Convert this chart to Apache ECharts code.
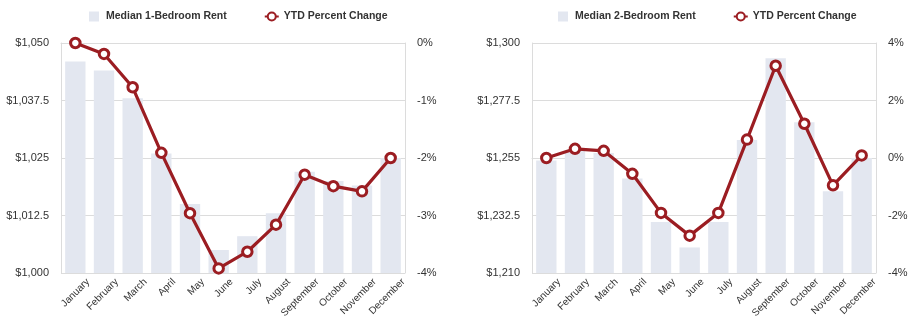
<!DOCTYPE html>
<html><head><meta charset="utf-8">
<script src="https://cdn.jsdelivr.net/npm/echarts@6/dist/echarts.min.js"></script>
<style>
html,body{margin:0;padding:0;background:#fff;}
#wrap{width:922px;height:331px;position:relative;}
#c1{position:absolute;left:0;top:0;width:461px;height:331px;}
#c2{position:absolute;left:461px;top:0;width:461px;height:331px;}
</style></head>
<body><div id="wrap"><div id="c1"></div><div id="c2"></div></div>
<script>
const months = ['January','February','March','April','May','June','July','August','September','October','November','December'];
const rent1 = [1046, 1044, 1038, 1026, 1015, 1005, 1008, 1013, 1022, 1020, 1019, 1025];
const pct1 = [0, -0.19, -0.77, -1.91, -2.96, -3.92, -3.63, -3.16, -2.29, -2.49, -2.58, -2.0];
const rent2 = [1254, 1258, 1257, 1247, 1230, 1220, 1230, 1262, 1294, 1269, 1242, 1255];
const pct2 = [0, 0.32, 0.25, -0.55, -1.91, -2.70, -1.91, 0.64, 3.21, 1.19, -0.95, 0.09];
const ticks1 = [1000, 1012.5, 1025, 1037.5, 1050];
const ticks2 = [1210, 1232.5, 1255, 1277.5, 1300];

const FONT = 'Liberation Sans, Arial, Helvetica, sans-serif';
const BAR = '#e3e7f0';
const RED = '#9b1d22';
const GRIDC = '#dcdcdc';

function money(v){ return '$' + Number(v).toLocaleString('en-US', {maximumFractionDigits: 1}); }

function build(opt){
  return {
    animation: false,
    textStyle: {fontFamily: FONT},
    legend: {
      left: opt.legendLeft, top: 6, itemGap: 37, itemWidth: 14, itemHeight: 10,
      textStyle: {fontFamily: FONT, fontSize: 10.5, fontWeight: 'bold', color: '#333'},
      data: [{name: opt.barName, icon: 'path://M0,0L10,0L10,10L0,10Z'}, {name: 'YTD Percent Change'}]
    },
    grid: {left: opt.gridLeft, right: opt.gridRight, top: 43, bottom: 58},
    xAxis: {
      type: 'category', data: months, boundaryGap: true,
      axisLine: {lineStyle: {color: GRIDC, width: 1}},
      axisTick: {show: false},
      axisLabel: {rotate: 45, interval: 0, fontSize: 10, color: '#333', fontFamily: FONT, margin: 20,
                  padding: [36, -18, 0, 0]}
    },
    yAxis: [
      Object.assign({
        type: 'value', min: opt.min, max: opt.max, position: 'left',
        axisLine: {show: true, lineStyle: {color: GRIDC}},
        axisTick: {show: false},
        splitLine: {show: false},
        axisLabel: Object.assign({fontSize: 11, color: '#333', fontFamily: FONT, margin: 12, formatter: money}, opt.leftLabelExtra || {})
      }, opt.leftExtra || {}),
      {
        type: 'value', min: opt.pmin, max: opt.pmax, interval: opt.pint, position: 'right',
        axisLine: {show: true, lineStyle: {color: GRIDC}},
        axisTick: {show: false},
        splitLine: {show: true, lineStyle: {color: GRIDC, width: 1}},
        axisLabel: {fontSize: 11, color: '#333', fontFamily: FONT, margin: 12, formatter: v => v + '%'}
      }
    ],
    series: [
      {name: opt.barName, type: 'bar', data: opt.rent, yAxisIndex: 0, barWidth: '71%',
       itemStyle: {color: BAR}, z: 1},
      {name: 'YTD Percent Change', type: 'line', data: opt.pct, yAxisIndex: 1,
       symbol: 'circle', symbolSize: 9.5, showAllSymbol: true,
       lineStyle: {color: RED, width: 3.2},
       itemStyle: {color: '#fff', borderColor: RED, borderWidth: 3},
       z: 3}
    ]
  };
}

const ch1 = echarts.init(document.getElementById('c1'), null, {renderer: 'canvas'});
ch1.setOption(build({
  barName: 'Median 1-Bedroom Rent', legendLeft: 84, gridLeft: 61, gridRight: 56,
  min: 1000, max: 1050, leftExtra: {interval: 12.5},
  pmin: -4, pmax: 0, pint: 1, rent: rent1, pct: pct1
}));

const ch2 = echarts.init(document.getElementById('c2'), null, {renderer: 'canvas'});
ch2.setOption(build({
  barName: 'Median 2-Bedroom Rent', legendLeft: 92, gridLeft: 71, gridRight: 46,
  min: 1210, max: 1300,
  leftExtra: {axisTick: {show: false, customValues: ticks2}},
  leftLabelExtra: {customValues: ticks2},
  pmin: -4, pmax: 4, pint: 2, rent: rent2, pct: pct2
}));
</script></body></html>
